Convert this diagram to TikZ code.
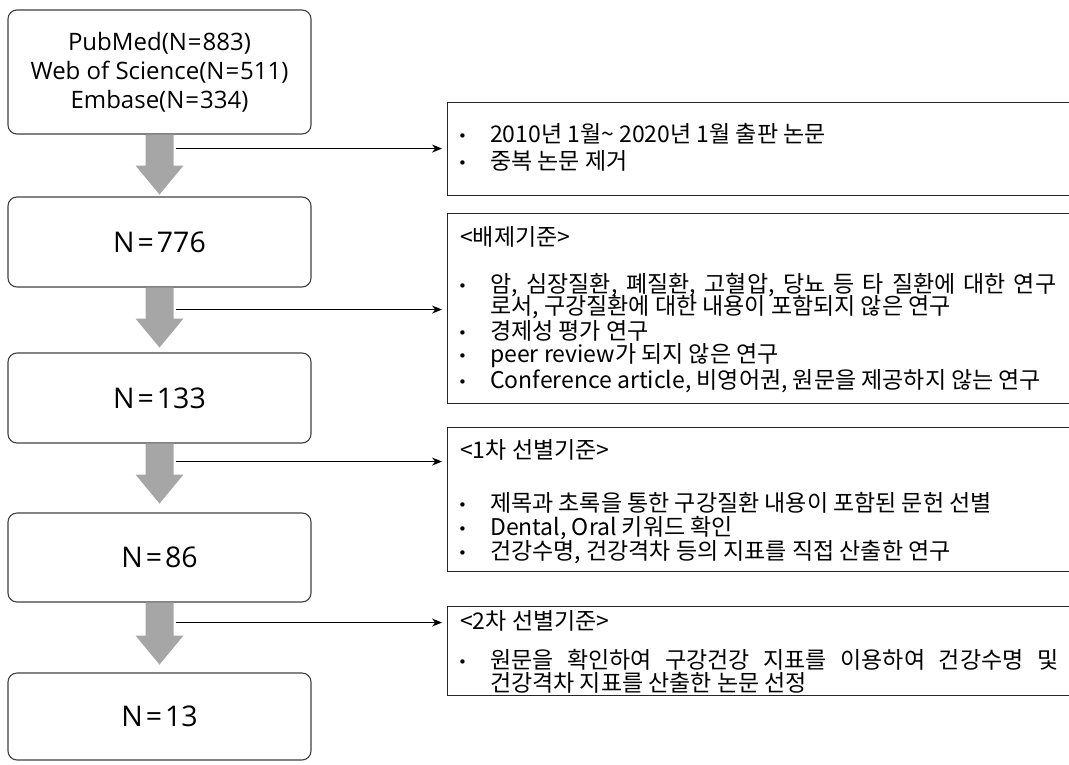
\documentclass[tikz,border=0pt]{standalone}
\usepackage{fontspec}
\setmainfont{Open Sans}
\newfontfamily\kr{Noto Sans CJK KR}
\newfontfamily\bulfont{DejaVu Sans}
\usetikzlibrary{arrows.meta,calc}
\definecolor{garrowc}{HTML}{A6A6A6}
\definecolor{lboxc}{HTML}{404040}
\newcommand{\bul}[1]{\makebox[32pt][l]{\raisebox{1pt}{\bulfont\fontsize{15}{15}\selectfont •}}#1}
\newcommand{\eq}[1]{\kern#1=\kern#1}
\begin{document}
\begin{tikzpicture}[x=1pt,y=-1pt,
  lbox/.style={draw=lboxc, line width=1.1pt, rounded corners=9pt, minimum width=303pt, align=center, inner sep=0pt},
  rbox/.style={draw=black!85, line width=1pt, anchor=north west, minimum width=625pt, inner sep=0pt},
  txt/.style={anchor=west, inner sep=0pt, font=\kr\fontsize{23}{24}\selectfont},
  garrow/.style={fill=garrowc, draw=none},
  conn/.style={-{Stealth[length=10pt,width=8pt]}, line width=0.9pt, shorten >=5pt}
]
\useasboundingbox (0,0) rectangle (1069,764);
\clip (0,0) rectangle (1069,764);

% left boxes
\node[lbox, minimum height=124pt, font=\fontsize{24}{29}\selectfont] (b1) at (159.5,72) {PubMed(N\eq{1pt}883)\\Web of Science(N\eq{1pt}511)\\Embase(N\eq{1pt}334)};
\node[lbox, minimum height=90pt, font=\fontsize{28.5}{30}\selectfont] (b2) at (159.5,242) {N\eq{3pt}776};
\node[lbox, minimum height=90pt, font=\fontsize{28.5}{30}\selectfont] (b3) at (159.5,398) {N\eq{3pt}133};
\node[lbox, minimum height=89pt, font=\fontsize{28.5}{30}\selectfont] (b4) at (159.5,557.5) {N\eq{3pt}86};
\node[lbox, minimum height=87pt, font=\fontsize{28.5}{30}\selectfont] (b5) at (159.5,716.5) {N\eq{3pt}13};

% gray block arrows
\foreach \u/\s in {b1/31, b2/31, b3/31, b4/33}{
  \fill[garrow] ($(\u.south)+(-14,0)$) -- ($(\u.south)+(14,0)$) -- ($(\u.south)+(14,\s)$) -- ($(\u.south)+(24,\s)$)
    -- ($(\u.south)+(0,\s+29)$) -- ($(\u.south)+(-24,\s)$) -- ($(\u.south)+(-14,\s)$) -- cycle;
}

% right boxes
\node[rbox, minimum height=93pt] (rA) at (447,102) {};
\node[rbox, minimum height=190pt] (rB) at (447,213) {};
\node[rbox, minimum height=144pt] (rC) at (447,427) {};
\node[rbox, minimum height=89pt] (rD) at (447,606) {};

% connectors
\coordinate (c1) at ($(b1.south)+(16,14)$);
\coordinate (c2) at ($(b2.south)+(16,22)$);
\coordinate (c3) at ($(b3.south)+(16,18)$);
\coordinate (c4) at ($(b4.south)+(16,20)$);
\draw[conn] (c1) -- (c1 -| rA.west);
\draw[conn] (c2) -- (c2 -| rB.west);
\draw[conn] (c3) -- (c3 -| rC.west);
\draw[conn] (c4) -- (c4 -| rD.west);

% box A text
\node[txt] (a1) at (458,134) {\bul{2010년 1월\textasciitilde{} 2020년 1월 출판 논문}};
\node[txt] (a2) at (458,161) {\bul{중복 논문 제거}};

% box B text
\node[txt] (bh) at (460,237) {<배제기준>};
\node[txt] (bi1) at (458,285) {\bul{\makebox[566pt][s]{암, 심장질환, 폐질환, 고혈압, 당뇨 등 타 질환에 대한 연구}}};
\node[txt] (bi1b) at (490,307) {로서, 구강질환에 대한 내용이 포함되지 않은 연구};
\node[txt] (bi2) at (458,331) {\bul{경제성 평가 연구}};
\node[txt] (bi3) at (458,356) {\bul{peer review가 되지 않은 연구}};
\node[txt] (bi4) at (458,381) {\bul{Conference article, 비영어권, 원문을 제공하지 않는 연구}};

% box C text
\node[txt] (ch) at (460,450) {<1차 선별기준>};
\node[txt] (ci1) at (458,503) {\bul{제목과 초록을 통한 구강질환 내용이 포함된 문헌 선별}};
\node[txt] (ci2) at (458,528) {\bul{Dental, Oral 키워드 확인}};
\node[txt] (ci3) at (458,552) {\bul{건강수명, 건강격차 등의 지표를 직접 산출한 연구}};

% box D text
\node[txt] (dh) at (460,621) {<2차 선별기준>};
\node[txt] (di1) at (458,660) {\bul{\makebox[568pt][s]{원문을 확인하여 구강건강 지표를 이용하여 건강수명 및}}};
\node[txt] (di1b) at (490,683) {건강격차 지표를 산출한 논문 선정};
\end{tikzpicture}
\end{document}
